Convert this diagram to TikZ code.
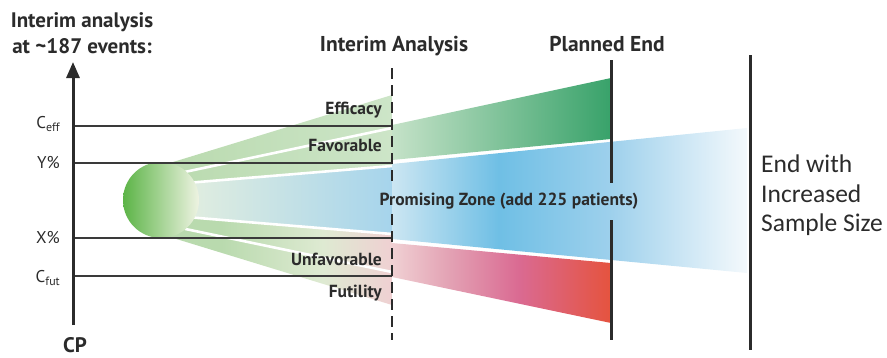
\documentclass[tikz,border=0pt]{standalone}
\usepackage{fontspec}
\setmainfont{PT Sans}
\newfontfamily\calib{Carlito}
\usetikzlibrary{arrows.meta}

% palette
\definecolor{ink}{HTML}{2B2B2B}
\definecolor{rule}{HTML}{3A3A3A}
\definecolor{ballL}{HTML}{5CB447}
\definecolor{ballR}{HTML}{EEF3E2}
\definecolor{fanG}{HTML}{B9DAAE}
\definecolor{fanGtip}{HTML}{CDE5C8}
\definecolor{fanPale}{HTML}{E9F1DE}
\definecolor{fanMid}{HTML}{DEEAD2}
\definecolor{fanBlue}{HTML}{A6D4EC}
\definecolor{fanPink}{HTML}{EFD0D2}
\definecolor{effL}{HTML}{C5E2C8}
\definecolor{effR}{HTML}{38A26A}
\definecolor{blueA}{HTML}{CCE6F2}
\definecolor{blueB}{HTML}{6FBFE5}
\definecolor{blueC}{HTML}{9DD0EC}
\definecolor{blueD}{HTML}{F4F9FC}
\definecolor{redA}{HTML}{F0D0D3}
\definecolor{redB}{HTML}{E3A2B4}
\definecolor{redC}{HTML}{DA6A92}
\definecolor{redD}{HTML}{E5533E}

% horizontal colour ramps (inner 25--75bp spans the filled path)
\pgfdeclarehorizontalshading{promisingband}{100bp}{color(0bp)=(blueA); color(25bp)=(blueA); color(40bp)=(blueB); color(55.6bp)=(blueC); color(75bp)=(blueD); color(100bp)=(blueD)}
\pgfdeclarehorizontalshading{futilityband}{100bp}{color(0bp)=(redA); color(25bp)=(redA); color(38bp)=(redB); color(54bp)=(redC); color(75bp)=(redD); color(100bp)=(redD)}
\pgfdeclarehorizontalshading{lowerfan}{100bp}{color(0bp)=(fanG); color(25bp)=(fanG); color(38bp)=(fanG); color(60bp)=(fanMid); color(75bp)=(fanPink); color(100bp)=(fanPink)}

\tikzset{
  hline/.style={draw=rule, line width=1.4pt},
  gap/.style={draw=white, line width=2.6pt},
  bar/.style={draw=ink, line width=3pt},
  title/.style={font=\fontsize{21}{24}\selectfont\bfseries, text=ink, inner sep=0pt},
  header/.style={font=\fontsize{21.5}{24}\selectfont\bfseries, text=ink, inner sep=0pt, anchor=base},
  zone/.style={font=\fontsize{17.5}{20}\selectfont\bfseries, text=ink, inner sep=0pt, anchor=base east},
  level/.style={font=\fontsize{17}{19}\selectfont, text=ink, inner sep=0pt, anchor=base east},
  endtext/.style={font=\calib\fontsize{25.5}{29}\selectfont, text=ink, inner sep=0pt, anchor=base west},
}
\newcommand{\lvsub}[2]{#1\raisebox{-0.45ex}{\fontsize{12}{12}\selectfont #2}}

\begin{document}
\begin{tikzpicture}[x=1pt, y=-1pt]
\useasboundingbox (0,0) rectangle (887,357);

% ---- key coordinates ----
\coordinate (axB) at (73,325);
\coordinate (axT) at (73,62);
\coordinate (effA) at (73,126);  \coordinate (effD) at (392,126);
\coordinate (yA)   at (73,163);  \coordinate (yD)   at (392,163);
\coordinate (xA)   at (73,238);  \coordinate (xD)   at (392,238);
\coordinate (futA) at (73,276);  \coordinate (futD) at (392,276);
\coordinate (iaT) at (392,68);   \coordinate (iaM1) at (392,186);
\coordinate (iaM2) at (392,214); \coordinate (iaB) at (392,340);
\coordinate (peT) at (611,60);   \coordinate (peM1) at (611,183);
\coordinate (peM2) at (611,220); \coordinate (peB) at (611,340);
\coordinate (esT) at (750,55);   \coordinate (esB) at (750,350);

% ---- fan from the ball to the interim analysis ----
\shade[left color=fanG, right color=fanGtip]
  (161,165.7) -- (392,95) -- (392,128) -- (161,177.2) -- cycle;
\shade[left color=fanG, right color=fanGtip]
  (161,177.2) -- (392,128) -- (392,166) -- (161,185.05) -- cycle;
\shade[left color=fanPale, right color=fanBlue]
  (161,185.05) -- (392,166) -- (392,234) -- (161,214.95) -- cycle;
\shade[shading=lowerfan]
  (161,214.95) -- (392,234) -- (392,272) -- (161,223.97) -- cycle;
\shade[shading=lowerfan]
  (161,223.97) -- (392,272) -- (392,305) -- (161,234.3) -- cycle;
% light separators between the bands
\coordinate (s1a) at (185,171.9); \coordinate (s1b) at (392,128);
\coordinate (s2a) at (185,183.1); \coordinate (s2b) at (392,166);
\coordinate (s3a) at (185,216.9); \coordinate (s3b) at (392,234);
\coordinate (s4a) at (185,228.9); \coordinate (s4b) at (392,272);
\draw[gap] (s1a) -- (s1b);
\draw[gap] (s2a) -- (s2b);
\draw[gap] (s3a) -- (s3b);
\draw[gap] (s4a) -- (s4b);

% ---- fans after the interim analysis ----
\shade[left color=effL, right color=effR]
  (392,125) -- (611,78) -- (611,139) -- (392,160) -- cycle;
\shade[shading=promisingband]
  (392,164) -- (747,128) -- (747,273) -- (392,239) -- cycle;
\shade[shading=futilityband]
  (392,243) -- (611,263) -- (611,323) -- (392,277) -- cycle;

% ---- the ball ----
\shade[left color=ballL, right color=ballR] (161,200) circle[radius=38];

% ---- conditional power levels ----
\draw[hline] (effA) -- (effD);
\draw[hline, line width=2pt] (yA) -- (yD);
\draw[hline, line width=2pt] (xA) -- (xD);
\draw[hline] (futA) -- (futD);

% ---- time marks ----
\draw[draw=ink, line width=2pt, dash pattern=on 11pt off 6pt] (iaT) -- (iaM1);
\draw[draw=ink, line width=2pt, dash pattern=on 11pt off 6pt] (iaM2) -- (iaB);
\draw[bar] (peT) -- (peM1);
\draw[bar] (peM2) -- (peB);
\draw[bar] (esT) -- (esB);

% ---- CP axis ----
\draw[draw=ink, line width=3pt, -{Triangle[length=16pt, width=13pt]}] (axB) -- (axT);

% ---- texts ----
\node[title, anchor=base] (t1) at (82,27) {Interim analysis};
\node[title, anchor=base] (t2) at (82,53) {at \textasciitilde187 events:};
\node[title, anchor=base] (cp) at (75,352) {CP};
\node[level] (lceff) at (60,128) {\lvsub{C}{eff}};
\node[level] (ly) at (60,168) {Y\%};
\node[level] (lx) at (60,243) {X\%};
\node[level] (lcfut) at (60,282) {\lvsub{C}{fut}};

\node[header] (hia) at (394,51) {Interim Analysis};
\node[header] (hpe) at (607,51) {Planned End};

\node[zone] (zeff) at (382,114) {Efficacy};
\node[zone] (zfav) at (382,151) {Favorable};
\node[zone] (zunf) at (382,265) {Unfavorable};
\node[zone] (zfut) at (382,297) {Futility};
\node[zone, anchor=base] (zprom) at (509,205) {Promising Zone (add 225 patients)};

\node[endtext] (e1) at (761,172) {End with};
\node[endtext] (e2) at (761,202) {Increased};
\node[endtext] (e3) at (761,231) {Sample Size};
\end{tikzpicture}
\end{document}
